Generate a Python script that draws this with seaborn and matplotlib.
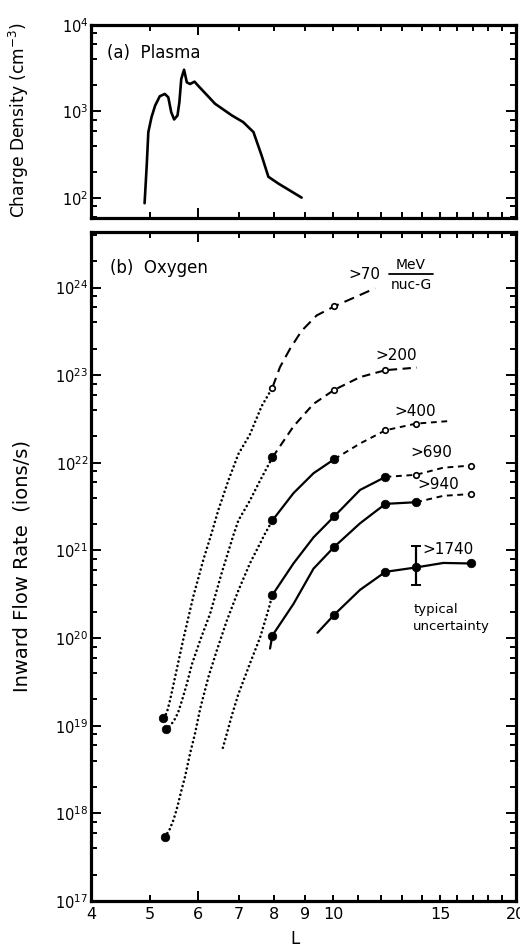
import numpy as np
import pandas as pd
import matplotlib
matplotlib.use("Agg")
import matplotlib.pyplot as plt
import seaborn as sns
from matplotlib.ticker import LogLocator, FixedLocator, FixedFormatter, NullFormatter

sns.set_style("ticks")
plt.rcParams['font.family'] = ['DejaVu Sans']
plt.rcParams['mathtext.fontset'] = 'dejavusans'
for k in ('text.color', 'axes.labelcolor', 'xtick.color', 'ytick.color', 'axes.edgecolor'):
    plt.rcParams[k] = 'black'

# ---------------- data ----------------
# (a) Plasma charge density vs L
plasma_L = [4.90, 4.94, 4.97, 5.03, 5.10, 5.19, 5.29, 5.36, 5.42, 5.48, 5.55, 5.59,
            5.63, 5.69, 5.75, 5.82, 5.92, 6.00, 6.40, 6.82, 7.12, 7.40, 7.63, 7.83, 8.13, 8.88]
plasma_n = [87, 239, 578, 859, 1172, 1500, 1596, 1459, 982, 809, 899, 1280,
            2377, 3041, 2173, 2080, 2213, 1991, 1227, 900, 753, 578, 312, 176, 147, 101]

# (b) Oxygen inward flow rate (ions/s)
# >70 MeV/nuc-G
o70_dot_L = [5.26, 5.33, 5.40, 5.50, 5.67, 5.89, 6.12, 6.32, 6.48, 6.73, 6.99, 7.30, 7.63, 7.95]
o70_dot_y = [1.23e19, 1.4e19, 2.0e19, 3.6e19, 9.5e19, 2.95e20, 7.8e20, 1.6e21, 2.9e21, 6.3e21,
             1.26e22, 2.1e22, 4.4e22, 7.2e22]
o70_dash_L = [7.95, 8.18, 8.50, 8.88, 9.40, 9.89, 10.05, 10.80, 11.73]
o70_dash_y = [7.2e22, 1.23e23, 2.0e23, 3.2e23, 4.8e23, 5.75e23, 6.1e23, 7.6e23, 9.8e23]
o70_open_L = [7.95, 10.05]
o70_open_y = [7.2e22, 6.1e23]
o70_fill_L = [5.26]
o70_fill_y = [1.23e19]

# >200
o200_dot_L = [5.31, 5.40, 5.48, 5.56, 5.64, 5.75, 5.86, 6.05, 6.28, 6.56, 6.86, 6.99, 7.30, 7.59, 7.95]
o200_dot_y = [9.1e18, 1.0e19, 1.15e19, 1.4e19, 1.9e19, 3.0e19, 5.0e19, 9.5e19, 1.9e20, 5.5e20,
              1.5e21, 2.2e21, 3.7e21, 6.3e21, 1.15e22]
o200_dash_L = [7.95, 8.61, 9.29, 10.05, 11.08, 12.2, 13.73]
o200_dash_y = [1.15e22, 2.6e22, 4.7e22, 6.8e22, 9.5e22, 1.14e23, 1.22e23]
o200_open_L = [10.05, 12.2]
o200_open_y = [6.8e22, 1.14e23]
o200_fill_L = [5.31, 7.95]
o200_fill_y = [9.1e18, 1.15e22]

# >400
o400_dot_L = [5.29, 5.38, 5.47, 5.55, 5.63, 5.71, 5.82, 5.93, 6.05, 6.24, 6.44, 6.69, 6.99, 7.30, 7.73, 7.95]
o400_dot_y = [5.4e17, 6.4e17, 8.5e17, 1.2e18, 1.8e18, 2.6e18, 4.8e18, 8.1e18, 1.58e19, 3.6e19,
              7.2e19, 1.58e20, 3.5e20, 7.1e20, 1.55e21, 2.2e21]
o400_solid_L = [7.95, 8.61, 9.29, 10.05]
o400_solid_y = [2.2e21, 4.5e21, 7.6e21, 1.1e22]
o400_dash_L = [10.05, 11.08, 12.2, 13.7, 15.58]
o400_dash_y = [1.1e22, 1.66e22, 2.35e22, 2.8e22, 3.0e22]
o400_open_L = [12.2, 13.7]
o400_open_y = [2.35e22, 2.8e22]
o400_fill_L = [5.29, 7.95, 10.05]
o400_fill_y = [5.4e17, 2.2e21, 1.1e22]

# >690
o690_dot_L = [6.59, 6.69, 6.82, 6.99, 7.30, 7.59, 7.83, 7.95]
o690_dot_y = [5.6e18, 8.1e18, 1.32e19, 2.3e19, 5.1e19, 1.02e20, 2.1e20, 3.1e20]
o690_solid_L = [7.95, 8.61, 9.29, 10.05, 11.08, 12.2]
o690_solid_y = [3.1e20, 7.1e20, 1.41e21, 2.45e21, 4.9e21, 6.9e21]
o690_dash_L = [12.2, 13.7, 15.19, 16.87]
o690_dash_y = [6.9e21, 7.3e21, 8.8e21, 9.3e21]
o690_open_L = [13.7, 16.87]
o690_open_y = [7.3e21, 9.3e21]
o690_fill_L = [7.95, 10.05, 12.2]
o690_fill_y = [3.1e20, 2.45e21, 6.9e21]

# >940
o940_solid_L = [7.88, 7.95, 8.61, 9.29, 10.05, 11.08, 12.2, 13.7]
o940_solid_y = [7.6e19, 1.07e20, 2.45e20, 6.2e20, 1.1e21, 2.04e21, 3.4e21, 3.55e21]
o940_dash_L = [13.7, 15.19, 16.87]
o940_dash_y = [3.55e21, 4.2e21, 4.4e21]
o940_open_L = [16.87]
o940_open_y = [4.4e21]
o940_fill_L = [7.95, 10.05, 12.2, 13.7]
o940_fill_y = [1.07e20, 1.1e21, 3.4e21, 3.55e21]

# >1740
o1740_solid_L = [9.43, 10.05, 11.08, 12.2, 13.7, 15.19, 16.87]
o1740_solid_y = [1.15e20, 1.85e20, 3.55e20, 5.7e20, 6.4e20, 7.2e20, 7.1e20]
o1740_fill_L = [10.05, 12.2, 13.7, 16.87]
o1740_fill_y = [1.85e20, 5.7e20, 6.4e20, 7.1e20]

# typical uncertainty
err_L = [13.7]
err_y = [6.4e20]
err_lo = [4.0e20]
err_hi = [1.12e21]

xtick_vals = [4, 5, 6, 7, 8, 9, 10, 15, 20]
xtick_labels = ["4", "5", "6", "7", "8", "9", "10", "15", "20"]
xminor_vals = [11, 12, 13, 14, 16, 17, 18, 19]

# ---------------- figure ----------------
fig = plt.figure(figsize=(5.20, 9.47), dpi=100)
W, H = 520.0, 947.0
axL, axR = 91.0, 516.0
ax1 = fig.add_axes([axL / W, 1 - 218 / H, (axR - axL) / W, (218 - 25) / H])
ax2 = fig.add_axes([axL / W, 1 - 901 / H, (axR - axL) / W, (901 - 232) / H])

DOT = dict(linestyle=(0, (0.01, 1.7)), dash_capstyle='round', lw=1.9)
DASH_LONG = dict(linestyle=(0, (5.0, 3.0)), lw=1.5)
DASH_MED = dict(linestyle=(0, (4.0, 2.6)), lw=1.5)
DASH_SHORT = dict(linestyle=(0, (3.0, 2.4)), lw=1.4)
SOLID = dict(linestyle='-', lw=1.6)


def line(ax, xs, ys, style):
    df = pd.DataFrame({"L": xs, "v": ys})
    sns.lineplot(data=df, x="L", y="v", ax=ax, color='black', sort=False,
                 estimator=None, legend=False, **style)


def filled(ax, xs, ys):
    df = pd.DataFrame({"L": xs, "v": ys})
    sns.scatterplot(data=df, x="L", y="v", ax=ax, color='black', s=38,
                    edgecolor='black', linewidth=0.5, zorder=5, legend=False)


def opened(ax, xs, ys):
    df = pd.DataFrame({"L": xs, "v": ys})
    sns.scatterplot(data=df, x="L", y="v", ax=ax, color='black', facecolor='white',
                    edgecolor='black', s=16, linewidth=1.2, zorder=5, legend=False)


for ax in (ax1, ax2):
    ax.set_xscale('log')
    ax.set_yscale('log')

# (a) plasma
line(ax1, plasma_L, plasma_n, dict(linestyle='-', lw=1.9))

# (b) oxygen
line(ax2, o70_dot_L, o70_dot_y, DOT)
line(ax2, o70_dash_L, o70_dash_y, DASH_LONG)
line(ax2, o200_dot_L, o200_dot_y, DOT)
line(ax2, o200_dash_L, o200_dash_y, DASH_MED)
line(ax2, o400_dot_L, o400_dot_y, DOT)
line(ax2, o400_solid_L, o400_solid_y, SOLID)
line(ax2, o400_dash_L, o400_dash_y, DASH_SHORT)
line(ax2, o690_dot_L, o690_dot_y, DOT)
line(ax2, o690_solid_L, o690_solid_y, SOLID)
line(ax2, o690_dash_L, o690_dash_y, DASH_SHORT)
line(ax2, o940_solid_L, o940_solid_y, SOLID)
line(ax2, o940_dash_L, o940_dash_y, DASH_SHORT)
line(ax2, o1740_solid_L, o1740_solid_y, SOLID)

for fx, fy in [(o70_fill_L, o70_fill_y), (o200_fill_L, o200_fill_y), (o400_fill_L, o400_fill_y),
               (o690_fill_L, o690_fill_y), (o940_fill_L, o940_fill_y), (o1740_fill_L, o1740_fill_y)]:
    filled(ax2, fx, fy)
for ox, oy in [(o70_open_L, o70_open_y), (o200_open_L, o200_open_y), (o400_open_L, o400_open_y),
               (o690_open_L, o690_open_y), (o940_open_L, o940_open_y)]:
    opened(ax2, ox, oy)

yerr = [[err_y[0] - err_lo[0]], [err_hi[0] - err_y[0]]]
ax2.errorbar(err_L, err_y, yerr=yerr, fmt='none', ecolor='black', elinewidth=1.6,
             capsize=3.5, capthick=1.4, zorder=4)

# ---------------- axes formatting ----------------
ax1.set_ylim(58.7, 1e4)
ax2.set_ylim(1e17, 4.3e24)
for ax in (ax1, ax2):
    ax.set_xlim(4, 20)
    ax.xaxis.set_major_locator(FixedLocator(xtick_vals))
    ax.xaxis.set_minor_locator(FixedLocator(xminor_vals))
    ax.xaxis.set_minor_formatter(NullFormatter())
    ax.yaxis.set_major_locator(LogLocator(base=10, numticks=20))
    ax.yaxis.set_minor_locator(LogLocator(base=10, subs=(2, 4, 6, 8), numticks=50))
    ax.yaxis.set_minor_formatter(NullFormatter())
    ax.tick_params(axis='both', which='both', direction='in', top=True, right=True,
                   width=1.4, color='black', labelcolor='black')
    ax.tick_params(axis='x', which='both', length=4.5)
    ax.tick_params(axis='y', which='major', length=7)
    ax.tick_params(axis='y', which='minor', length=4)
    ax.tick_params(axis='y', which='major', labelsize=10.5, pad=2)
    ax.tick_params(axis='x', which='major', labelsize=11.5, pad=4)
    for sp in ax.spines.values():
        sp.set_linewidth(2.3)
        sp.set_color('black')
    ax.set_xlabel("")
    ax.set_ylabel("")
    # longer tick at L = 10
    for t in ax.xaxis.get_major_ticks():
        if abs(t.get_loc() - 10) < 1e-6:
            t.tick1line.set_markersize(7.5)
            t.tick2line.set_markersize(7.5)

ax2.xaxis.set_major_formatter(FixedFormatter(xtick_labels))
ax1.xaxis.set_major_formatter(NullFormatter())

ax1.set_ylabel("Charge Density (cm$^{-3}$)", fontsize=12.3)
ax1.yaxis.set_label_coords(-0.140, 0.51)
ax2.set_ylabel("Inward Flow Rate  (ions/s)", fontsize=14)
ax2.yaxis.set_label_coords(-0.140, 0.50)
ax2.set_xlabel("L", fontsize=12)
ax2.xaxis.set_label_coords(0.48, -0.043)

# ---------------- annotations ----------------
ax1.text(0.038, 0.855, "(a)  Plasma", transform=ax1.transAxes, fontsize=12,
         ha='left', va='center')
ax2.text(0.045, 0.946, "(b)  Oxygen", transform=ax2.transAxes, fontsize=12,
         ha='left', va='center')

ann = dict(transform=ax2.transAxes, fontsize=11, ha='left', va='center')
ax2.text(0.605, 0.936, ">70", **ann)
ax2.text(0.753, 0.950, "MeV", transform=ax2.transAxes, fontsize=10, ha='center', va='center')
ax2.plot([0.701, 0.805], [0.937, 0.937], transform=ax2.transAxes, color='black', lw=1.3)
ax2.text(0.753, 0.921, "nuc-G", transform=ax2.transAxes, fontsize=10, ha='center', va='center')
ax2.text(0.668, 0.815, ">200", **ann)
ax2.text(0.715, 0.732, ">400", **ann)
ax2.text(0.751, 0.670, ">690", **ann)
ax2.text(0.769, 0.622, ">940", **ann)
ax2.text(0.779, 0.525, ">1740", **ann)
ax2.text(0.758, 0.435, "typical", transform=ax2.transAxes, fontsize=9.5, ha='left', va='center')
ax2.text(0.758, 0.411, "uncertainty", transform=ax2.transAxes, fontsize=9.5, ha='left', va='center')

fig.savefig("out.png", dpi=100)
